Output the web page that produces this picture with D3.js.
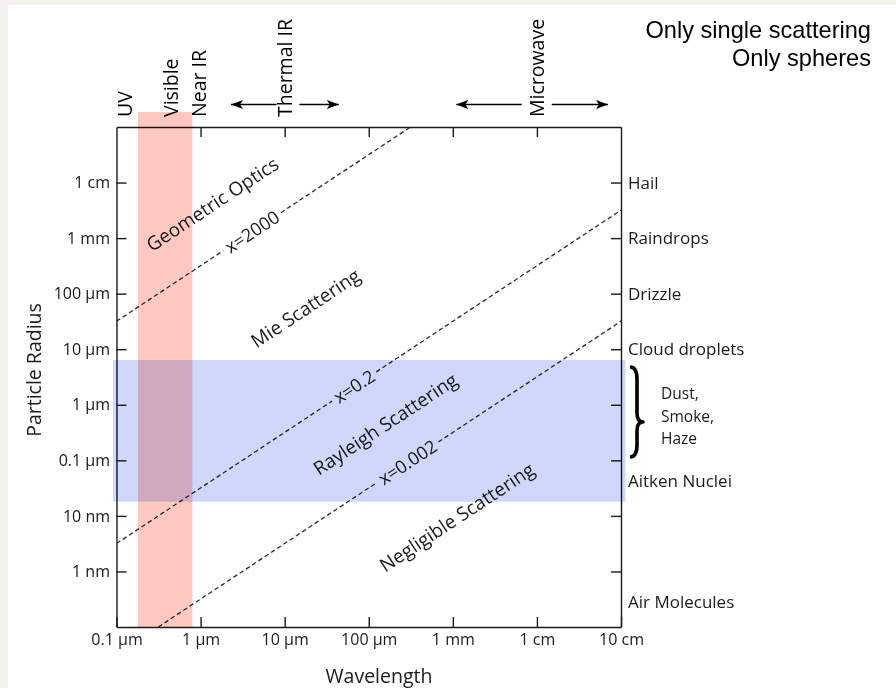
<!DOCTYPE html>
<html><head><meta charset="utf-8">
<script src="https://cdn.jsdelivr.net/npm/d3@7"></script>
<style>
html,body{margin:0;padding:0;background:#fff;}
svg{display:block;}
text{font-weight:500;}
</style></head><body>
<svg id="c" width="896" height="688"></svg>
<script>
// ---------- data ----------
const wavelengthDomain = [1e-7, 1e-1];
const radiusDomain = [1e-10, 1e-1];
const wavelengthTicks = [1e-7, 1e-6, 1e-5, 1e-4, 1e-3, 1e-2, 1e-1];
const wavelengthTickLabels = ["0.1 µm", "1 µm", "10 µm", "100 µm", "1 mm", "1 cm", "10 cm"];
const radiusTicks = [1e-9, 1e-8, 1e-7, 1e-6, 1e-5, 1e-4, 1e-3, 1e-2];
const radiusTickLabels = ["1 nm", "10 nm", "0.1 µm", "1 µm", "10 µm", "100 µm", "1 mm", "1 cm"];

const spectrumLabels = ["UV", "Visible", "Near IR", "Thermal IR", "Microwave"];
const spectrumLabelWavelengths = [1.25e-7, 4.4e-7, 9.6e-7, 1e-5, 1e-2];
const arrowTails = [8e-6, 1.5e-5, 6.6e-3, 1.5e-2];
const arrowTips = [2.3e-6, 4.4e-5, 1.1e-3, 7e-2];

const visibleBand = [1.8e-7, 8e-7];
const aerosolBand = [1.8e-8, 6.4e-6];

const sizeParameters = [2000, 0.2, 0.002];
const sizeParameterLabels = ["x=2000", "x=0.2", "x=0.002"];
const sizeLabelWavelengths = [4.1e-6, 6.7e-5, 2.9e-4];

const regimeLabels = ["Geometric Optics", "Mie Scattering", "Rayleigh Scattering", "Negligible Scattering"];
const regimeWavelengths = [1.38e-6, 1.76e-5, 1.57e-4, 1.12e-3];
const regimeRadii = [4.1e-3, 5.5e-5, 4.5e-7, 9.5e-9];

const particleLabels = ["Hail", "Raindrops", "Drizzle", "Cloud droplets", "Aitken Nuclei", "Air Molecules"];
const particleRadii = [1e-2, 1e-3, 1e-4, 1e-5, 4.2e-8, 2.8e-10];
const aerosolLabels = ["Dust,", "Smoke,", "Haze"];
const aerosolBrace = [1.15e-7, 4.9e-7, 4.8e-6];

const notes = ["Only single scattering", "Only spheres"];

// ---------- layout ----------
const W = 896, H = 688;
const PL = 116.5, PR = 621, PT = 127, PB = 627;
const FONT = "'Open Sans', 'Noto Sans', sans-serif";
const INK = "#1a1a1a";

const svg = d3.select("#c");
svg.append("rect").attr("width", W).attr("height", H).attr("fill", "#f2f1ed");
svg.append("rect").attr("x", 8).attr("y", 5).attr("width", W - 8).attr("height", H - 5).attr("fill", "#fff");

const x = d3.scaleLog().domain(wavelengthDomain).range([PL, PR]);
const y = d3.scaleLog().domain(radiusDomain).range([PB, PT]);

const angle = Math.atan2(y(1e-3) - y(1e-4), x(1e-3) - x(1e-4)) * 180 / Math.PI;
const cosA = Math.cos(angle * Math.PI / 180);

// ---------- axes ----------
function styleAxis(g, size) {
  g.select(".domain").attr("stroke", INK).attr("stroke-width", 1.4);
  g.selectAll(".tick line").attr("stroke", INK).attr("stroke-width", 1.4);
  g.selectAll(".tick text").attr("fill", INK).style("font-family", FONT).style("font-size", size + "px");
}
const gBottom = svg.append("g").attr("transform", `translate(0,${PB})`)
  .call(d3.axisBottom(x).tickValues(wavelengthTicks).tickFormat((d, i) => wavelengthTickLabels[i])
    .tickSize(-10).tickSizeOuter(0).tickPadding(7));
styleAxis(gBottom, 16);
const gTop = svg.append("g").attr("transform", `translate(0,${PT})`)
  .call(d3.axisTop(x).tickValues(wavelengthTicks.slice(1, -1)).tickFormat(() => "")
    .tickSize(-10).tickSizeOuter(0));
styleAxis(gTop, 15);
const gLeft = svg.append("g").attr("transform", `translate(${PL},0)`)
  .call(d3.axisLeft(y).tickValues(radiusTicks).tickFormat((d, i) => radiusTickLabels[i])
    .tickSize(-10).tickSizeOuter(0).tickPadding(6.5));
styleAxis(gLeft, 16);
const gRight = svg.append("g").attr("transform", `translate(${PR},0)`)
  .call(d3.axisRight(y).tickValues(radiusTicks).tickFormat(() => "")
    .tickSize(-10).tickSizeOuter(0));
styleAxis(gRight, 15);

// axis titles
svg.append("text").attr("x", 379).attr("y", 683).attr("text-anchor", "middle")
  .style("font-family", FONT).style("font-size", "19.5px").attr("fill", INK).text("Wavelength");
svg.append("text").attr("transform", `translate(41,370) rotate(-90)`).attr("text-anchor", "middle")
  .style("font-family", FONT).style("font-size", "19.5px").attr("fill", INK).text("Particle Radius");

// ---------- spectrum labels on top ----------
spectrumLabels.forEach((s, i) => {
  svg.append("text")
    .attr("transform", `translate(${x(spectrumLabelWavelengths[i])},117) rotate(-90)`)
    .attr("dy", "0.36em").attr("text-anchor", "start")
    .style("font-family", FONT).style("font-size", "19.5px").attr("fill", "#000").text(s);
});
const defs = svg.append("defs");
defs.append("marker").attr("id", "ah").attr("viewBox", "0 0 12 9").attr("refX", 12).attr("refY", 4.5)
  .attr("markerWidth", 12).attr("markerHeight", 9).attr("markerUnits", "userSpaceOnUse").attr("orient", "auto")
  .append("path").attr("d", "M0,0 L12,4.5 L0,9 L3,4.5 Z").attr("fill", "#000");
arrowTails.forEach((t, i) => {
  svg.append("line").attr("x1", x(t)).attr("x2", x(arrowTips[i])).attr("y1", 104.5).attr("y2", 104.5)
    .attr("stroke", "#000").attr("stroke-width", 1.4).attr("marker-end", "url(#ah)");
});

// ---------- size-parameter lines ----------
const lineG = svg.append("g");
sizeParameters.forEach((p, i) => {
  const k = p / (2 * Math.PI);
  const lmin = Math.max(wavelengthDomain[0], radiusDomain[0] / k);
  const lmax = Math.min(wavelengthDomain[1], radiusDomain[1] / k);
  const lc = sizeLabelWavelengths[i];
  const cx = x(lc), cy = y(k * lc);
  const t = lineG.append("text")
    .attr("transform", `translate(${cx},${cy}) rotate(${angle})`)
    .attr("text-anchor", "middle").attr("dy", "0.36em")
    .style("font-family", FONT).style("font-size", "18px").attr("fill", INK).text(sizeParameterLabels[i]);
  const half = (t.node().getComputedTextLength() / 2 + 4) * cosA;
  const segs = [[lmin, x.invert(cx - half)], [x.invert(cx + half), lmax]];
  segs.forEach(([a, b]) => {
    lineG.append("line")
      .attr("x1", x(a)).attr("y1", y(k * a)).attr("x2", x(b)).attr("y2", y(k * b))
      .attr("stroke", "#2a2a2a").attr("stroke-width", 1.3).attr("stroke-dasharray", "4.5,3");
  });
});

// ---------- regime labels ----------
regimeLabels.forEach((s, i) => {
  svg.append("text")
    .attr("transform", `translate(${x(regimeWavelengths[i])},${y(regimeRadii[i])}) rotate(${angle})`)
    .attr("text-anchor", "middle").attr("dy", "0.36em")
    .style("font-family", FONT).style("font-size", "19px").attr("fill", INK).text(s);
});

// ---------- particle labels (right) ----------
particleLabels.forEach((s, i) => {
  svg.append("text").attr("x", PR + 7).attr("y", y(particleRadii[i])).attr("dy", "0.36em")
    .style("font-family", FONT).style("font-size", "17px").attr("fill", INK).text(s);
});
const by0 = y(aerosolBrace[2]), bym = y(aerosolBrace[1]), by1 = y(aerosolBrace[0]);
const bx0 = PR + 9, bx1 = PR + 16, bx2 = PR + 22;
svg.append("path")
  .attr("d", `M${bx0},${by0} Q${bx1},${by0} ${bx1},${by0 + 12} L${bx1},${bym - 9} Q${bx1},${bym} ${bx2},${bym}
              Q${bx1},${bym} ${bx1},${bym + 9} L${bx1},${by1 - 12} Q${bx1},${by1} ${bx0},${by1}`)
  .attr("fill", "none").attr("stroke", "#000").attr("stroke-width", 3.6).attr("stroke-linejoin", "round");
aerosolLabels.forEach((s, i) => {
  svg.append("text").attr("x", PR + 40).attr("y", bym - 6 + (i - 1) * 22.5).attr("dy", "0.36em")
    .style("font-family", FONT).style("font-size", "15.5px").attr("fill", INK).text(s);
});

// ---------- bands (multiply overlays) ----------
svg.append("rect")
  .attr("x", PL - 3.5).attr("width", PR - PL + 8)
  .attr("y", y(aerosolBand[1])).attr("height", y(aerosolBand[0]) - y(aerosolBand[1]))
  .attr("fill", "#cfd7fb").style("mix-blend-mode", "multiply");
svg.append("rect")
  .attr("x", x(visibleBand[0])).attr("width", x(visibleBand[1]) - x(visibleBand[0]))
  .attr("y", PT - 15).attr("height", PB - PT + 15)
  .attr("fill", "#ffc9c1").style("mix-blend-mode", "multiply");

// ---------- notes ----------
notes.forEach((s, i) => {
  svg.append("text").attr("x", 871).attr("y", 38 + i * 27.5).attr("text-anchor", "end")
    .style("font-family", "'Liberation Sans', Arial, sans-serif").style("font-size", "23.6px")
    .style("font-weight", "400").attr("fill", "#000").text(s);
});
</script>
</body></html>
